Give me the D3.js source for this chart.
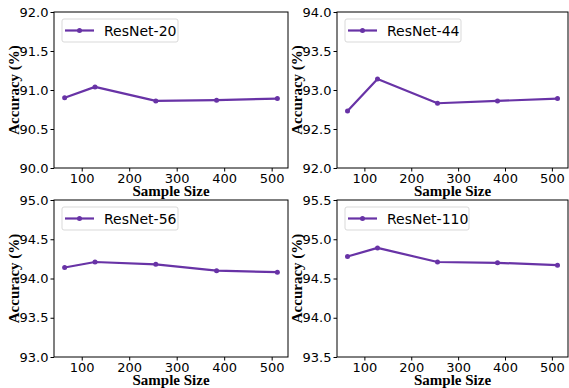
<!DOCTYPE html>
<html>
<head>
  <meta charset="utf-8">
  <title>Accuracy vs sample size</title>
  <script src="https://d3js.org/d3.v7.min.js"></script>
  <style>
    body { margin: 0; background: #fff; }
    .tick text { font-family: "DejaVu Sans", sans-serif; font-size: 13px; fill: #000; }
    .axis-title { font-family: "Liberation Serif", "Times New Roman", serif; font-weight: bold; font-size: 15px; }
    .legend-text { font-family: "DejaVu Sans", sans-serif; font-size: 14px; }
  </style>
</head>
<body>
<div id="chart"></div>
<script>
  const sampleSizes = [64, 128, 256, 384, 512];
  const xTicks = [100, 200, 300, 400, 500];

  const resnet20 = [90.90, 91.04, 90.86, 90.87, 90.89];
  const resnet44 = [92.73, 93.14, 92.83, 92.86, 92.89];
  const resnet56 = [94.14, 94.21, 94.18, 94.10, 94.08];
  const resnet110 = [94.78, 94.89, 94.71, 94.70, 94.67];

  const panelNames = ['ResNet-20', 'ResNet-44', 'ResNet-56', 'ResNet-110'];
  const panelValues = [resnet20, resnet44, resnet56, resnet110];
  const yDomains = [[90, 92], [92, 94], [93, 95], [93.5, 95.5]];
  const yTicks = [
    [90.0, 90.5, 91.0, 91.5, 92.0],
    [92.0, 92.5, 93.0, 93.5, 94.0],
    [93.0, 93.5, 94.0, 94.5, 95.0],
    [93.5, 94.0, 94.5, 95.0, 95.5]
  ];

  const color = '#6833a6';
  const width = 569, height = 388;

  // plot area boxes: [left, top, right, bottom]
  const boxes = [
    [54, 12, 288, 168],
    [337, 12, 568, 168],
    [54, 200, 288, 357],
    [337, 200, 568, 357]
  ];

  const svg = d3.select('#chart').append('svg')
    .attr('width', width)
    .attr('height', height);

  const pad = (512 - 64) * 0.05;

  panelNames.forEach((name, i) => {
    const [l, t, r, b] = boxes[i];
    const x = d3.scaleLinear().domain([64 - pad, 512 + pad]).range([l, r]);
    const y = d3.scaleLinear().domain(yDomains[i]).range([b, t]);
    const g = svg.append('g');

    g.append('g')
      .attr('transform', `translate(0,${b})`)
      .call(d3.axisBottom(x).tickValues(xTicks).tickSize(3.5).tickPadding(2).tickFormat(d3.format('d')))
      .call(a => a.select('.domain').remove());

    g.append('g')
      .attr('transform', `translate(${l},0)`)
      .call(d3.axisLeft(y).tickValues(yTicks[i]).tickSize(3.5).tickPadding(2).tickFormat(d3.format('.1f')))
      .call(a => a.select('.domain').remove());

    g.append('rect')
      .attr('x', l).attr('y', t)
      .attr('width', r - l).attr('height', b - t)
      .attr('fill', 'none')
      .attr('stroke', '#000')
      .attr('stroke-width', 1);

    const data = sampleSizes.map((s, k) => [s, panelValues[i][k]]);
    g.append('path')
      .datum(data)
      .attr('fill', 'none')
      .attr('stroke', color)
      .attr('stroke-width', 2.2)
      .attr('stroke-linejoin', 'round')
      .attr('d', d3.line().x(d => x(d[0])).y(d => y(d[1])));

    g.selectAll('circle.pt').data(data).enter()
      .append('circle')
        .attr('class', 'pt')
        .attr('cx', d => x(d[0]))
        .attr('cy', d => y(d[1]))
        .attr('r', 2.5)
        .attr('fill', color);

    // legend
    const lg = g.append('g').attr('transform', `translate(${l + 8},${t + 7})`);
    const lw = name.length > 9 ? 124 : 116;
    lg.append('rect')
      .attr('width', lw).attr('height', 23)
      .attr('rx', 2)
      .attr('fill', '#fff')
      .attr('stroke', '#d9d9d9');
    lg.append('line')
      .attr('x1', 3).attr('x2', 32).attr('y1', 11.5).attr('y2', 11.5)
      .attr('stroke', color).attr('stroke-width', 2.2);
    lg.append('circle').attr('cx', 17.5).attr('cy', 11.5).attr('r', 2.5).attr('fill', color);
    lg.append('text')
      .attr('class', 'legend-text')
      .attr('x', 42).attr('y', 16.5)
      .text(name);

    g.append('text')
      .attr('class', 'axis-title')
      .attr('x', (l + r) / 2)
      .attr('y', b + 28)
      .attr('text-anchor', 'middle')
      .text('Sample Size');

    g.append('text')
      .attr('class', 'axis-title')
      .attr('transform', `translate(${l - 35},${(t + b) / 2}) rotate(-90)`)
      .attr('text-anchor', 'middle')
      .text('Accuracy (%)');
  });
</script>
</body>
</html>
